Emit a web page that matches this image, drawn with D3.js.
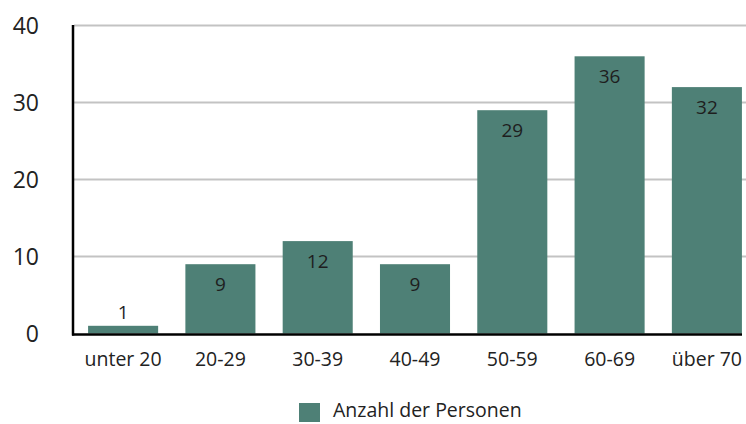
<!DOCTYPE html>
<html>
<head>
<meta charset="utf-8">
<script src="https://cdn.jsdelivr.net/npm/d3@7"></script>
<style>
  body { margin: 0; background: #fff; }
  svg { display: block; font-family: "Open Sans", "Noto Sans", sans-serif; }
</style>
</head>
<body>
<svg width="746" height="424"></svg>
<script>
// Daten
const categories = ["unter 20", "20-29", "30-39", "40-49", "50-59", "60-69", "über 70"];
const values = [1, 9, 12, 9, 29, 36, 32];
const yTicks = [0, 10, 20, 30, 40];
const seriesName = "Anzahl der Personen";

const svg = d3.select("svg");
const barColor = "#4e8076";

const x = d3.scaleBand()
    .domain(categories)
    .range([73, 757])
    .paddingInner(0.28)
    .paddingOuter(0.155);

const y = d3.scaleLinear()
    .domain([0, 40])
    .range([333.5, 25.5]);

// Gitterlinien
svg.append("g")
    .selectAll("line")
    .data(yTicks.filter(d => d > 0))
    .join("line")
    .attr("x1", 74)
    .attr("x2", 746)
    .attr("y1", d => y(d))
    .attr("y2", d => y(d))
    .attr("stroke", "#c3c3c3")
    .attr("stroke-width", 2);

// y-Achse Beschriftung
svg.append("g")
    .selectAll("text")
    .data(yTicks)
    .join("text")
    .attr("x", 39)
    .attr("y", d => y(d) + 8)
    .attr("text-anchor", "end")
    .attr("font-size", 23)
    .attr("fill", "#222")
    .text(d => d);

// Balken
svg.append("g")
    .selectAll("rect")
    .data(values)
    .join("rect")
    .attr("x", (d, i) => x(categories[i]))
    .attr("y", d => y(d))
    .attr("width", x.bandwidth())
    .attr("height", d => y(0) - y(d))
    .attr("fill", barColor);

// Werte
svg.append("g")
    .selectAll("text")
    .data(values)
    .join("text")
    .attr("x", (d, i) => x(categories[i]) + x.bandwidth() / 2)
    .attr("y", d => (y(0) - y(d) < 35) ? y(d) - 7 : y(d) + 27)
    .attr("text-anchor", "middle")
    .attr("font-size", 19)
    .attr("fill", "#1e1e1e")
    .text(d => d);

// Achsen
svg.append("line")
    .attr("x1", 73).attr("x2", 73)
    .attr("y1", 25).attr("y2", 335.5)
    .attr("stroke", "#000").attr("stroke-width", 2.5);
svg.append("line")
    .attr("x1", 72).attr("x2", 742)
    .attr("y1", 334.5).attr("y2", 334.5)
    .attr("stroke", "#000").attr("stroke-width", 2.5);

// x-Achse Beschriftung
svg.append("g")
    .selectAll("text")
    .data(categories)
    .join("text")
    .attr("x", d => x(d) + x.bandwidth() / 2)
    .attr("y", 366)
    .attr("text-anchor", "middle")
    .attr("font-size", 19.5)
    .attr("fill", "#222")
    .text(d => d);

// Legende (etwas hoeher, damit der Text nicht am Rand abgeschnitten wird)
const legend = svg.append("g");
legend.append("rect")
    .attr("x", 299).attr("y", 403)
    .attr("width", 21).attr("height", 19)
    .attr("fill", barColor);
legend.append("text")
    .attr("x", 333).attr("y", 417)
    .attr("font-size", 19.5)
    .attr("fill", "#222")
    .text(seriesName);
</script>
</body>
</html>
